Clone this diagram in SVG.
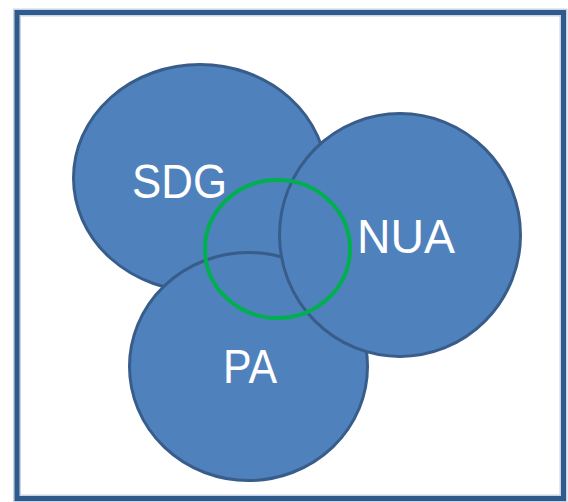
<svg xmlns="http://www.w3.org/2000/svg" width="568" height="502" viewBox="0 0 568 502">
  <style>
    .set { fill: #4f81bd; stroke: #385d8a; stroke-width: 3; }
    .label { fill: #ffffff; font-family: "Liberation Sans", Arial, sans-serif; font-size: 49px; }
    .focus { fill: none; stroke: #00b050; stroke-width: 4; }
  </style>
  <rect width="568" height="502" fill="#ffffff"/>
  <!-- frame -->
  <rect x="17" y="12.5" width="546.5" height="486" fill="none" stroke="#c9d5e4" stroke-width="8"/>
  <rect x="17" y="12.5" width="546.5" height="486" fill="none" stroke="#2e5a8c" stroke-width="5"/>

  <g id="sdg">
    <ellipse class="set" cx="200" cy="178" rx="126.5" ry="113.5"/>
    <text class="label" x="132" y="198" textLength="95" lengthAdjust="spacingAndGlyphs">SDG</text>
  </g>
  <g id="pa">
    <ellipse class="set" cx="248.5" cy="366.5" rx="119" ry="114"/>
    <text class="label" x="223" y="383" textLength="54" lengthAdjust="spacingAndGlyphs">PA</text>
  </g>
  <g id="nua">
    <ellipse class="set" cx="400" cy="235" rx="120.5" ry="121.5"/>
    <text class="label" x="357" y="253" textLength="98" lengthAdjust="spacingAndGlyphs">NUA</text>
  </g>
  <g id="core">
    <ellipse class="focus" cx="277.5" cy="249" rx="72.5" ry="69"/>
  </g>
</svg>
